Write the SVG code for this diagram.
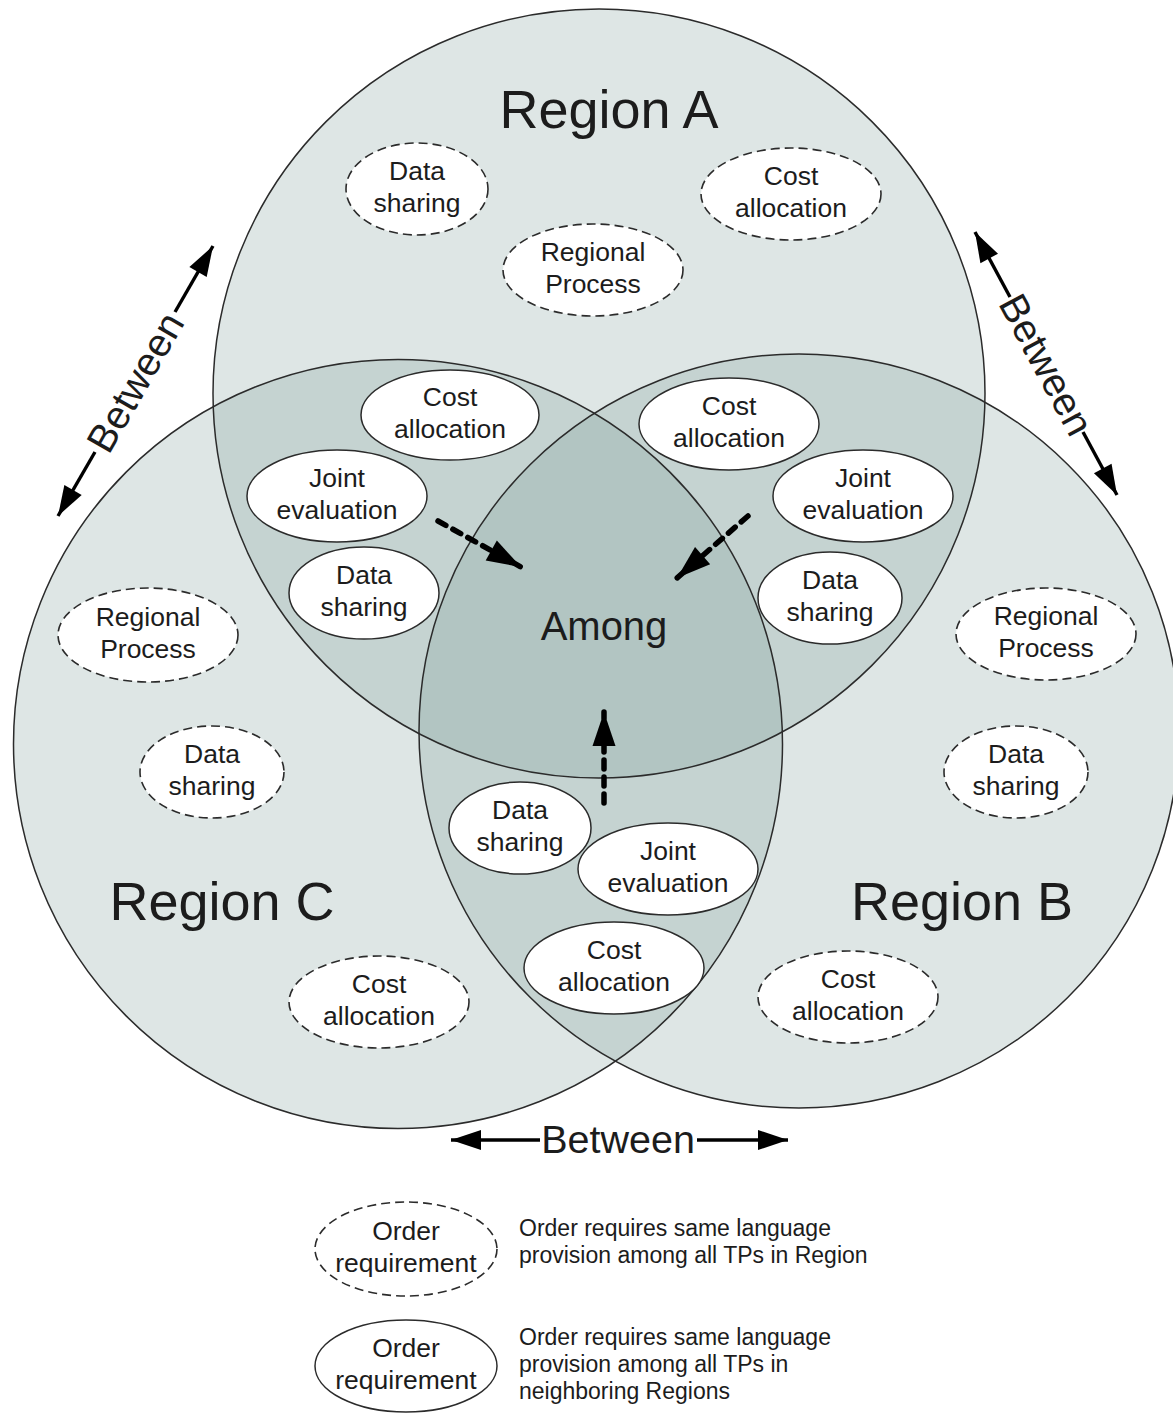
<svg xmlns="http://www.w3.org/2000/svg" width="1173" height="1414" viewBox="0 0 1173 1414">
<defs>
<style>
.rf{fill:#7a9c98;fill-opacity:.25;stroke:none}
.ro{fill:none;stroke:#2b2b2b;stroke-width:1.5}
.e{fill:#fff;stroke:#2b2b2b;stroke-width:1.5}
.ed{fill:#fff;stroke:#2b2b2b;stroke-width:1.6;stroke-dasharray:9 5}
text{font-family:"Liberation Sans",Arial,sans-serif;fill:#1c1c1c}
.t{font-size:26.5px;text-anchor:middle}
.big{font-size:54px;text-anchor:middle}
.among{font-size:40px;text-anchor:middle}
.btw{font-size:39.5px;text-anchor:middle}
.leg{font-size:23px}
.sa{stroke:#000;stroke-width:3.4;fill:none}
.da{stroke:#000;stroke-width:5.5;fill:none;stroke-dasharray:9 8;stroke-linecap:round}
</style>
<marker id="ah" markerUnits="userSpaceOnUse" markerWidth="40" markerHeight="30" refX="30" refY="10" orient="auto" overflow="visible">
<path d="M0,0 L30,10 L0,20 Z" fill="#000"/>
</marker>
<marker id="dh" markerUnits="userSpaceOnUse" markerWidth="40" markerHeight="30" refX="34" refY="11.5" orient="auto" overflow="visible">
<path d="M0,0 L34,11.5 L0,23 Z" fill="#000"/>
</marker>
</defs>
<rect width="1173" height="1414" fill="#fff"/>

<g id="region-fills">
<ellipse class="rf" cx="599" cy="393.5" rx="386" ry="384.5"/>
<circle class="rf" cx="398" cy="744" r="384.5"/>
<ellipse class="rf" cx="799" cy="731" rx="380" ry="377"/>
</g>
<g id="region-outlines">
<ellipse class="ro" cx="599" cy="393.5" rx="386" ry="384.5"/>
<circle class="ro" cx="398" cy="744" r="384.5"/>
<ellipse class="ro" cx="799" cy="731" rx="380" ry="377"/>
</g>

<g id="labels">
<text class="big" x="609" y="128">Region A</text>
<text class="big" x="222" y="920">Region C</text>
<text class="big" x="962" y="920">Region B</text>
<text class="among" x="604" y="640">Among</text>
</g>

<g id="connectors">
<line class="da" x1="438" y1="521" x2="521" y2="567" marker-end="url(#dh)"/>
<line class="da" x1="748" y1="516" x2="677" y2="578" marker-end="url(#dh)"/>
<line class="da" x1="604" y1="803" x2="604" y2="712" marker-end="url(#dh)"/>
<line class="sa" x1="540" y1="1140" x2="451" y2="1140" marker-end="url(#ah)"/>
<line class="sa" x1="697" y1="1140" x2="788" y2="1140" marker-end="url(#ah)"/>
<line class="sa" x1="95" y1="452" x2="58" y2="516" marker-end="url(#ah)"/>
<line class="sa" x1="175" y1="312" x2="213" y2="246" marker-end="url(#ah)"/>
<line class="sa" x1="1010" y1="297" x2="975" y2="232" marker-end="url(#ah)"/>
<line class="sa" x1="1083" y1="432" x2="1117" y2="495" marker-end="url(#ah)"/>
<text class="btw" x="618" y="1153">Between</text>
<text class="btw" transform="translate(135,382) rotate(-60.1)" x="0" y="14">Between</text>
<text class="btw" transform="translate(1046.5,364.5) rotate(61.6)" x="0" y="14">Between</text>
</g>

<g id="a-data-sharing"><ellipse class="ed" cx="417" cy="189" rx="71" ry="46"/><text class="t" x="417" y="180">Data</text><text class="t" x="417" y="212">sharing</text></g>
<g id="a-regional-process"><ellipse class="ed" cx="593" cy="270" rx="90" ry="46"/><text class="t" x="593" y="261">Regional</text><text class="t" x="593" y="293">Process</text></g>
<g id="a-cost-allocation"><ellipse class="ed" cx="791" cy="194" rx="90" ry="46"/><text class="t" x="791" y="185">Cost</text><text class="t" x="791" y="217">allocation</text></g>

<g id="ac-cost-allocation"><ellipse class="e" cx="450" cy="415" rx="89" ry="45"/><text class="t" x="450" y="406">Cost</text><text class="t" x="450" y="438">allocation</text></g>
<g id="ac-joint-evaluation"><ellipse class="e" cx="337" cy="496" rx="90" ry="46"/><text class="t" x="337" y="487">Joint</text><text class="t" x="337" y="519">evaluation</text></g>
<g id="ac-data-sharing"><ellipse class="e" cx="364" cy="593" rx="75" ry="46"/><text class="t" x="364" y="584">Data</text><text class="t" x="364" y="616">sharing</text></g>

<g id="ab-cost-allocation"><ellipse class="e" cx="729" cy="424" rx="90" ry="46"/><text class="t" x="729" y="415">Cost</text><text class="t" x="729" y="447">allocation</text></g>
<g id="ab-joint-evaluation"><ellipse class="e" cx="863" cy="496" rx="90" ry="46"/><text class="t" x="863" y="487">Joint</text><text class="t" x="863" y="519">evaluation</text></g>
<g id="ab-data-sharing"><ellipse class="e" cx="830" cy="598" rx="72" ry="46"/><text class="t" x="830" y="589">Data</text><text class="t" x="830" y="621">sharing</text></g>

<g id="bc-data-sharing"><ellipse class="e" cx="520" cy="828" rx="71" ry="46"/><text class="t" x="520" y="819">Data</text><text class="t" x="520" y="851">sharing</text></g>
<g id="bc-joint-evaluation"><ellipse class="e" cx="668" cy="869" rx="90" ry="46"/><text class="t" x="668" y="860">Joint</text><text class="t" x="668" y="892">evaluation</text></g>
<g id="bc-cost-allocation"><ellipse class="e" cx="614" cy="968" rx="90" ry="46"/><text class="t" x="614" y="959">Cost</text><text class="t" x="614" y="991">allocation</text></g>

<g id="c-regional-process"><ellipse class="ed" cx="148" cy="635" rx="90" ry="47"/><text class="t" x="148" y="626">Regional</text><text class="t" x="148" y="658">Process</text></g>
<g id="c-data-sharing"><ellipse class="ed" cx="212" cy="772" rx="72" ry="46"/><text class="t" x="212" y="763">Data</text><text class="t" x="212" y="795">sharing</text></g>
<g id="c-cost-allocation"><ellipse class="ed" cx="379" cy="1002" rx="90" ry="46"/><text class="t" x="379" y="993">Cost</text><text class="t" x="379" y="1025">allocation</text></g>

<g id="b-regional-process"><ellipse class="ed" cx="1046" cy="634" rx="90" ry="46"/><text class="t" x="1046" y="625">Regional</text><text class="t" x="1046" y="657">Process</text></g>
<g id="b-data-sharing"><ellipse class="ed" cx="1016" cy="772" rx="72" ry="46"/><text class="t" x="1016" y="763">Data</text><text class="t" x="1016" y="795">sharing</text></g>
<g id="b-cost-allocation"><ellipse class="ed" cx="848" cy="997" rx="90" ry="46"/><text class="t" x="848" y="988">Cost</text><text class="t" x="848" y="1020">allocation</text></g>

<g id="legend-regional"><ellipse class="ed" cx="406" cy="1249" rx="91" ry="47"/><text class="t" x="406" y="1240">Order</text><text class="t" x="406" y="1272">requirement</text>
<text class="leg" x="519" y="1236">Order requires same language</text><text class="leg" x="519" y="1263">provision among all TPs in Region</text></g>
<g id="legend-neighbor"><ellipse class="e" cx="406" cy="1366" rx="91" ry="46"/><text class="t" x="406" y="1357">Order</text><text class="t" x="406" y="1389">requirement</text>
<text class="leg" x="519" y="1345">Order requires same language</text><text class="leg" x="519" y="1372">provision among all TPs in</text><text class="leg" x="519" y="1399">neighboring Regions</text></g>
</svg>
